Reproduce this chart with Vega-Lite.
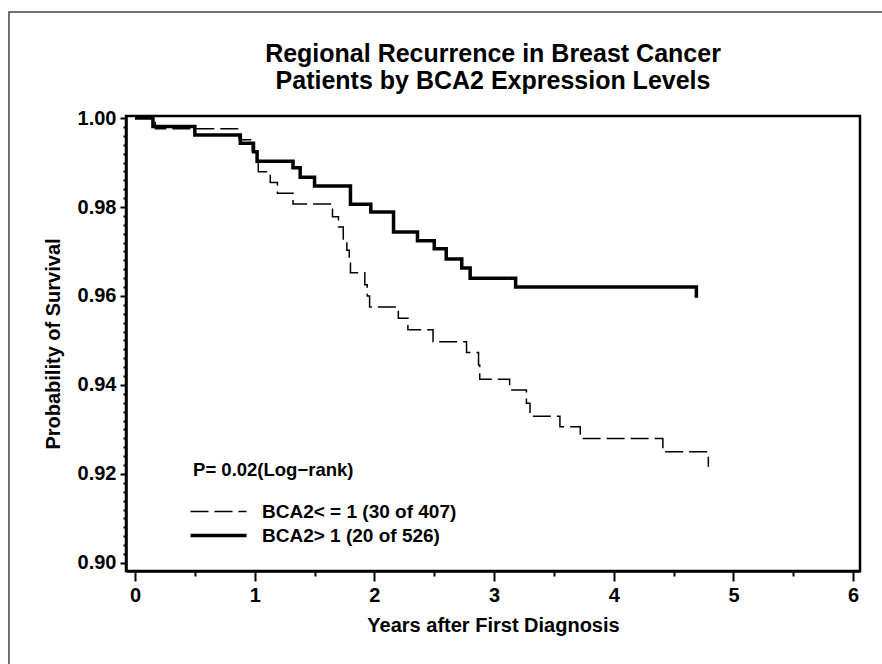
{
  "$schema": "https://vega.github.io/schema/vega-lite/v6.json",
  "width": 734,
  "height": 455,
  "autosize": {"type": "none"},
  "padding": {"left": 126, "top": 116, "right": 22, "bottom": 93},
  "background": "white",
  "config": {
    "font": "Liberation Sans",
    "view": {"stroke": "black", "strokeWidth": 2.5},
    "axis": {
      "grid": false,
      "domainColor": "black",
      "domainWidth": 2.5,
      "tickColor": "black",
      "tickWidth": 2,
      "labelFont": "Liberation Sans",
      "labelFontWeight": "bold",
      "labelFontSize": 20,
      "labelColor": "black",
      "titleFont": "Liberation Sans",
      "titleFontWeight": "bold",
      "titleFontSize": 20,
      "titleColor": "black"
    },
    "legend": {
      "orient": "none",
      "legendX": 83,
      "legendY": 386,
      "padding": 0,
      "labelFont": "Liberation Sans",
      "labelFontWeight": "bold",
      "labelFontSize": 19,
      "labelColor": "black",
      "labelOffset": 34,
      "labelLimit": 0,
      "symbolType": "M-4,0H4",
      "symbolSize": 196,
      "symbolStrokeColor": "black",
      "rowPadding": 4
    }
  },
  "title": {
    "text": ["Regional Recurrence in Breast Cancer", "Patients by BCA2 Expression Levels"],
    "font": "Liberation Sans",
    "fontSize": 25,
    "fontWeight": "bold",
    "color": "black",
    "lineHeight": 27,
    "offset": -83,
    "anchor": "middle",
    "frame": "group"
  },
  "datasets": {
    "km": [
      {"group": "BCA2< = 1 (30 of 407)", "t": 0, "s": 1.0},
      {"group": "BCA2< = 1 (30 of 407)", "t": 0.17, "s": 0.9976},
      {"group": "BCA2< = 1 (30 of 407)", "t": 0.87, "s": 0.9951},
      {"group": "BCA2< = 1 (30 of 407)", "t": 0.98, "s": 0.9926},
      {"group": "BCA2< = 1 (30 of 407)", "t": 1.02, "s": 0.9902},
      {"group": "BCA2< = 1 (30 of 407)", "t": 1.03, "s": 0.9879},
      {"group": "BCA2< = 1 (30 of 407)", "t": 1.13, "s": 0.9855},
      {"group": "BCA2< = 1 (30 of 407)", "t": 1.19, "s": 0.9831},
      {"group": "BCA2< = 1 (30 of 407)", "t": 1.32, "s": 0.9807},
      {"group": "BCA2< = 1 (30 of 407)", "t": 1.65, "s": 0.9778},
      {"group": "BCA2< = 1 (30 of 407)", "t": 1.70, "s": 0.9755},
      {"group": "BCA2< = 1 (30 of 407)", "t": 1.74, "s": 0.9728},
      {"group": "BCA2< = 1 (30 of 407)", "t": 1.77, "s": 0.9703},
      {"group": "BCA2< = 1 (30 of 407)", "t": 1.79, "s": 0.9678},
      {"group": "BCA2< = 1 (30 of 407)", "t": 1.80, "s": 0.9652},
      {"group": "BCA2< = 1 (30 of 407)", "t": 1.92, "s": 0.9625},
      {"group": "BCA2< = 1 (30 of 407)", "t": 1.94, "s": 0.9600},
      {"group": "BCA2< = 1 (30 of 407)", "t": 1.96, "s": 0.9575},
      {"group": "BCA2< = 1 (30 of 407)", "t": 2.20, "s": 0.9550},
      {"group": "BCA2< = 1 (30 of 407)", "t": 2.28, "s": 0.9524},
      {"group": "BCA2< = 1 (30 of 407)", "t": 2.49, "s": 0.9497},
      {"group": "BCA2< = 1 (30 of 407)", "t": 2.77, "s": 0.9473},
      {"group": "BCA2< = 1 (30 of 407)", "t": 2.87, "s": 0.9445},
      {"group": "BCA2< = 1 (30 of 407)", "t": 2.88, "s": 0.9413},
      {"group": "BCA2< = 1 (30 of 407)", "t": 3.13, "s": 0.9389},
      {"group": "BCA2< = 1 (30 of 407)", "t": 3.27, "s": 0.9359},
      {"group": "BCA2< = 1 (30 of 407)", "t": 3.30, "s": 0.9330},
      {"group": "BCA2< = 1 (30 of 407)", "t": 3.55, "s": 0.9306},
      {"group": "BCA2< = 1 (30 of 407)", "t": 3.72, "s": 0.9280},
      {"group": "BCA2< = 1 (30 of 407)", "t": 4.41, "s": 0.9250},
      {"group": "BCA2< = 1 (30 of 407)", "t": 4.79, "s": 0.9216},
      {"group": "BCA2> 1 (20 of 526)", "t": 0, "s": 1.0},
      {"group": "BCA2> 1 (20 of 526)", "t": 0.15, "s": 0.9981},
      {"group": "BCA2> 1 (20 of 526)", "t": 0.50, "s": 0.9962},
      {"group": "BCA2> 1 (20 of 526)", "t": 0.88, "s": 0.9943},
      {"group": "BCA2> 1 (20 of 526)", "t": 0.99, "s": 0.9924},
      {"group": "BCA2> 1 (20 of 526)", "t": 1.02, "s": 0.9903},
      {"group": "BCA2> 1 (20 of 526)", "t": 1.32, "s": 0.9888},
      {"group": "BCA2> 1 (20 of 526)", "t": 1.38, "s": 0.9867},
      {"group": "BCA2> 1 (20 of 526)", "t": 1.50, "s": 0.9847},
      {"group": "BCA2> 1 (20 of 526)", "t": 1.80, "s": 0.9806},
      {"group": "BCA2> 1 (20 of 526)", "t": 1.97, "s": 0.9789},
      {"group": "BCA2> 1 (20 of 526)", "t": 2.16, "s": 0.9744},
      {"group": "BCA2> 1 (20 of 526)", "t": 2.36, "s": 0.9724},
      {"group": "BCA2> 1 (20 of 526)", "t": 2.50, "s": 0.9706},
      {"group": "BCA2> 1 (20 of 526)", "t": 2.60, "s": 0.9683},
      {"group": "BCA2> 1 (20 of 526)", "t": 2.73, "s": 0.9663},
      {"group": "BCA2> 1 (20 of 526)", "t": 2.80, "s": 0.9640},
      {"group": "BCA2> 1 (20 of 526)", "t": 3.18, "s": 0.9620},
      {"group": "BCA2> 1 (20 of 526)", "t": 4.69, "s": 0.9596}
    ]
  },
  "layer": [
    {
      "data": {"values": [{"frame": "outer"}]},
      "mark": {"type": "rect", "fill": null, "stroke": "#444444", "strokeWidth": 1.5, "clip": false},
      "encoding": {
        "x": {"datum": -1.053, "type": "quantitative", "scale": {"domain": [-0.0752, 6.057], "nice": false, "zero": false}, "axis": null},
        "x2": {"datum": 7.5},
        "y": {"datum": 1.0238, "type": "quantitative", "scale": {"domain": [0.8982, 1.00045], "nice": false, "zero": false}, "axis": null},
        "y2": {"datum": 0.8}
      }
    },
    {
      "data": {"name": "km"},
      "mark": {"type": "line", "interpolate": "step-after", "color": "black"},
      "encoding": {
        "x": {
          "field": "t", "type": "quantitative",
          "scale": {"domain": [-0.0752, 6.057], "nice": false, "zero": false},
          "axis": {"orient": "bottom", "values": [0, 1, 2, 3, 4, 5, 6], "tickSize": 10, "labelPadding": 4, "title": "Years after First Diagnosis", "titlePadding": 10}
        },
        "y": {
          "field": "s", "type": "quantitative",
          "scale": {"domain": [0.8982, 1.00045], "nice": false, "zero": false},
          "axis": {"orient": "left", "values": [0.90, 0.92, 0.94, 0.96, 0.98, 1.00], "format": ".2f", "tickSize": 6, "labelPadding": 4, "title": "Probability of Survival", "titlePadding": 14}
        },
        "strokeDash": {
          "field": "group", "type": "ordinal",
          "scale": {"domain": ["BCA2< = 1 (30 of 407)", "BCA2> 1 (20 of 526)"], "range": [[18, 6], [1, 0]]},
          "legend": {"title": null}
        },
        "strokeWidth": {
          "field": "group", "type": "ordinal",
          "scale": {"domain": ["BCA2< = 1 (30 of 407)", "BCA2> 1 (20 of 526)"], "range": [1.5, 3.5]},
          "legend": {"title": null}
        }
      }
    },
    {
      "data": {"values": [{"label": "P= 0.02(Log\u2212rank)", "t": 0.485, "s": 0.9209}]},
      "mark": {"type": "text", "align": "left", "baseline": "middle", "font": "Liberation Sans", "fontWeight": "bold", "fontSize": 18.5, "color": "black"},
      "encoding": {
        "text": {"field": "label"},
        "x": {
          "field": "t", "type": "quantitative",
          "scale": {"domain": [-0.0752, 6.057], "nice": false, "zero": false},
          "axis": {"orient": "bottom", "values": [0.5, 1.5, 2.5, 3.5, 4.5, 5.5], "labels": false, "domain": false, "tickSize": 5, "title": null}
        },
        "y": {
          "field": "s", "type": "quantitative",
          "scale": {"domain": [0.8982, 1.00045], "nice": false, "zero": false},
          "axis": {"orient": "left", "values": [0.902, 0.904, 0.906, 0.908, 0.91, 0.912, 0.914, 0.916, 0.918, 0.922, 0.924, 0.926, 0.928, 0.93, 0.932, 0.934, 0.936, 0.938, 0.942, 0.944, 0.946, 0.948, 0.95, 0.952, 0.954, 0.956, 0.958, 0.962, 0.964, 0.966, 0.968, 0.97, 0.972, 0.974, 0.976, 0.978, 0.982, 0.984, 0.986, 0.988, 0.99, 0.992, 0.994, 0.996, 0.998], "labels": false, "domain": false, "tickSize": 3, "title": null}
        }
      }
    }
  ],
  "resolve": {"axis": {"x": "independent", "y": "independent"}}
}
